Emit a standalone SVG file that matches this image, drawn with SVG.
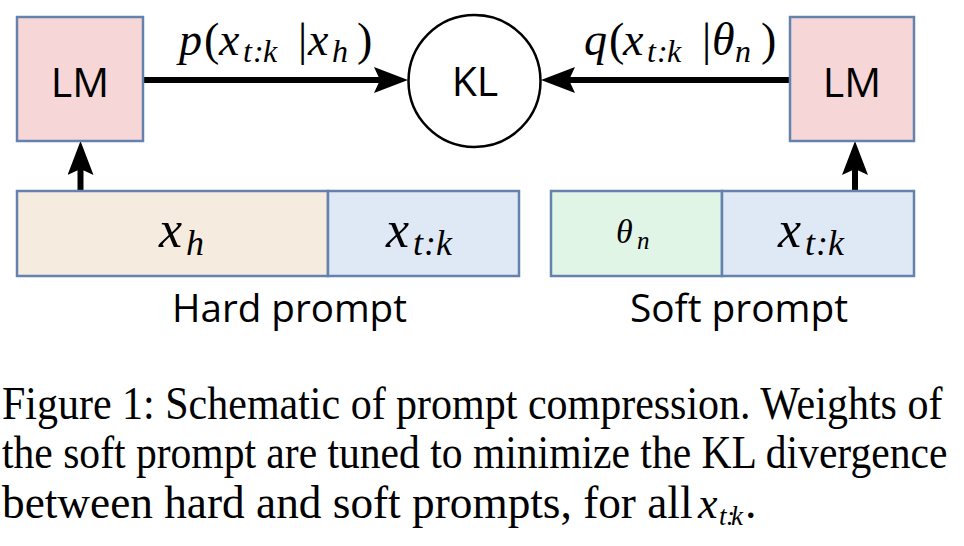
<svg xmlns="http://www.w3.org/2000/svg" width="964" height="546" viewBox="0 0 964 546">
<style>
.box{stroke:#6482ad;stroke-width:2.5}
.lm{fill:#f6d6d6}
.beige{fill:#f6ebdf}
.blue{fill:#dfe8f5}
.green{fill:#e1f5e7}
.sans{font-family:"Open Sans","Noto Sans","DejaVu Sans",sans-serif;fill:#000}
.m{font-family:"Liberation Serif","Times New Roman",serif;fill:#000}
.i{font-style:italic}
.conn{stroke:#000;stroke-width:6;fill:none}
.cap{font-family:"Liberation Serif","Times New Roman",serif;font-size:46px;fill:#000}
</style>
<defs>
<marker id="ah" markerUnits="userSpaceOnUse" markerWidth="34" markerHeight="26" viewBox="0 0 34 26" refX="6" refY="13" orient="auto">
<path d="M0,0 L34,13 L0,26 L6,13 Z" fill="#000"/>
</marker>
</defs>
<rect width="964" height="546" fill="#fff"/>

<g id="connectors">
<line class="conn" x1="143" y1="80" x2="380" y2="80" marker-end="url(#ah)"/>
<line class="conn" x1="790" y1="80" x2="569" y2="80" marker-end="url(#ah)"/>
<line class="conn" x1="80.5" y1="191" x2="80.5" y2="169" marker-end="url(#ah)"/>
<line class="conn" x1="855" y1="191" x2="855" y2="169" marker-end="url(#ah)"/>
<text class="m" font-size="46" y="55"><tspan class="i" x="179">p</tspan><tspan x="204">(</tspan><tspan class="i" x="219">x</tspan><tspan class="i" font-size="32" x="243 253 263" y="62">t:k</tspan><tspan x="298" y="55">|</tspan><tspan class="i" x="308">x</tspan><tspan class="i" font-size="32" x="332" y="62">h</tspan><tspan x="357" y="55">)</tspan></text>
<text class="m" font-size="46" y="55"><tspan class="i" x="584">q</tspan><tspan x="609">(</tspan><tspan class="i" x="623">x</tspan><tspan class="i" font-size="32" x="647 657 667" y="62">t:k</tspan><tspan x="702" y="55">|</tspan><tspan class="i" x="712">θ</tspan><tspan class="i" font-size="32" x="735" y="62">n</tspan><tspan x="761" y="55">)</tspan></text>
</g>

<g id="lm-left">
<rect class="box lm" x="17" y="17" width="126" height="124"/>
<text class="sans" x="80" y="97" font-size="41" text-anchor="middle">LM</text>
</g>

<g id="kl">
<circle cx="474.5" cy="81" r="66" fill="#fff" stroke="#000" stroke-width="2.5"/>
<text class="sans" x="475" y="96" font-size="41" text-anchor="middle">KL</text>
</g>

<g id="lm-right">
<rect class="box lm" x="790" y="17" width="124" height="124"/>
<text class="sans" x="852" y="97" font-size="41" text-anchor="middle">LM</text>
</g>

<g id="hard-prompt">
<rect class="box beige" x="17" y="191" width="311" height="85"/>
<rect class="box blue" x="328" y="191" width="191" height="85"/>
<text class="m" font-size="52" y="247"><tspan class="i" x="159">x</tspan><tspan class="i" font-size="36" x="186" y="255">h</tspan></text>
<text class="m" font-size="52" y="247"><tspan class="i" x="386">x</tspan><tspan class="i" font-size="36" x="413 424 436" y="255">t:k</tspan></text>
<text class="sans" x="172" y="322" font-size="38" textLength="235" lengthAdjust="spacingAndGlyphs">Hard prompt</text>
</g>

<g id="soft-prompt">
<rect class="box green" x="551" y="191" width="171" height="85"/>
<rect class="box blue" x="722" y="191" width="192" height="85"/>
<text class="m" font-size="34" y="243"><tspan class="i" x="616">θ</tspan><tspan class="i" font-size="25" x="637" y="249">n</tspan></text>
<text class="m" font-size="52" y="247"><tspan class="i" x="778">x</tspan><tspan class="i" font-size="36" x="805 816 828" y="255">t:k</tspan></text>
<text class="sans" x="630" y="322" font-size="38" textLength="218" lengthAdjust="spacingAndGlyphs">Soft prompt</text>
</g>

<g id="caption">
<text class="cap" transform="translate(2,419) scale(0.913,1)">Figure 1: Schematic of prompt compression. Weights of</text>
<text class="cap" transform="translate(2,468) scale(0.904,1)">the soft prompt are tuned to minimize the KL divergence</text>
<text class="cap" transform="translate(2,518) scale(0.985,1)">between hard and soft prompts, for all</text>
<text class="cap" y="518"><tspan class="i" font-size="44" x="698">x</tspan><tspan class="i" font-size="27" x="719 726 731" y="525">t:k</tspan><tspan x="745" y="518">.</tspan></text>
</g>
</svg>
